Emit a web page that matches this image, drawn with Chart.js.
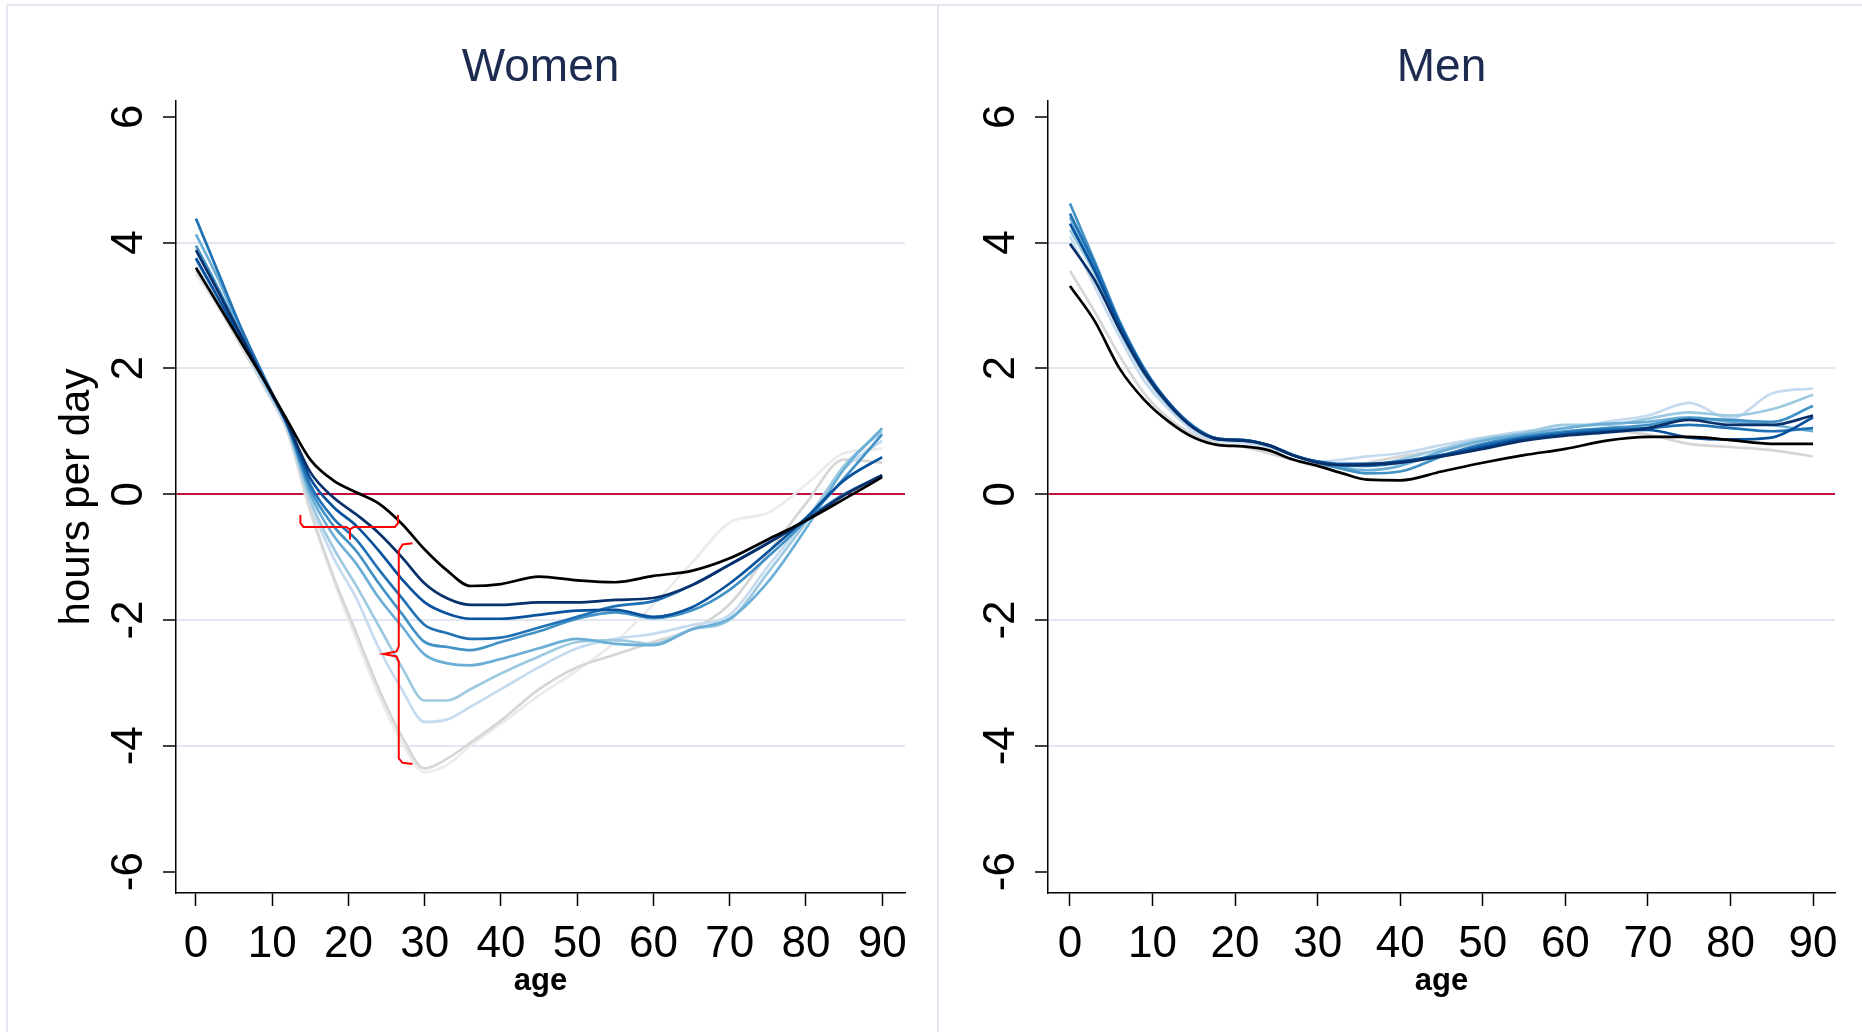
<!DOCTYPE html>
<html><head><meta charset="utf-8">
<script src="https://cdn.jsdelivr.net/npm/chart.js@4.4.1/dist/chart.umd.min.js"></script>
<style>
html,body{margin:0;padding:0;background:#fff;width:1862px;height:1032px;overflow:hidden;}
#frame{position:absolute;left:6px;top:4px;width:1950px;height:1100px;border:2px solid #e3e8f1;box-sizing:border-box;}
#sep{position:absolute;left:937px;top:4px;width:2px;height:1100px;background:#e3e8f1;}
.pane{position:absolute;top:0;height:1032px;}
</style></head><body>
<div id="frame"></div><div id="sep"></div>
<div class="pane" style="left:0;width:938px"><canvas id="cw"></canvas></div>
<div class="pane" style="left:940px;width:922px"><canvas id="cm"></canvas></div>
<script>
// ---- data ----
const ages = [0,3,6,9,12,15,18,21,24,27,30,33,36,40,45,50,55,60,65,70,75,80,85,90];
const xTicks = [0,10,20,30,40,50,60,70,80,90];
const yTicks = [-6,-4,-2,0,2,4,6];
const seriesColors = ['#000000','#08306b','#08519c','#2171b5','#4292c6','#6baed6','#9ecae1','#c6dbef','#d6d6d6','#ebebeb'];

// Women
const wBlack    = [3.60,3.00,2.40,1.80,1.17,0.55,0.22,0.03,-0.15,-0.47,-0.88,-1.22,-1.46,-1.43,-1.31,-1.37,-1.40,-1.30,-1.22,-1.02,-0.72,-0.42,-0.08,0.27];
const wNavy     = [3.88,3.20,2.50,1.80,1.12,0.35,-0.05,-0.32,-0.62,-1.00,-1.42,-1.66,-1.76,-1.76,-1.72,-1.72,-1.68,-1.65,-1.45,-1.12,-0.78,-0.42,-0.02,0.30];
const wDkBlue   = [3.75,3.10,2.45,1.80,1.12,0.25,-0.20,-0.50,-0.90,-1.35,-1.72,-1.90,-1.98,-1.98,-1.92,-1.85,-1.84,-1.95,-1.80,-1.42,-0.92,-0.38,0.22,0.59];
const wBlue1    = [4.38,3.50,2.62,1.85,1.10,0.15,-0.38,-0.72,-1.20,-1.65,-2.08,-2.21,-2.30,-2.28,-2.12,-1.95,-1.78,-1.70,-1.45,-1.12,-0.78,-0.40,0.00,0.30];
const wBlue2    = [3.95,3.25,2.50,1.80,1.10,0.08,-0.50,-0.90,-1.42,-1.90,-2.35,-2.43,-2.48,-2.35,-2.18,-1.98,-1.88,-1.97,-1.85,-1.52,-1.00,-0.42,0.25,0.95];
const wLtBlue   = [4.13,3.40,2.55,1.80,1.08,0.00,-0.65,-1.10,-1.65,-2.10,-2.55,-2.69,-2.72,-2.62,-2.45,-2.30,-2.38,-2.40,-2.15,-1.98,-1.40,-0.55,0.40,1.05];
const wLighter  = [3.75,3.10,2.45,1.75,1.05,-0.10,-0.85,-1.45,-2.10,-2.75,-3.28,-3.28,-3.10,-2.85,-2.58,-2.35,-2.32,-2.38,-2.15,-2.00,-1.25,-0.45,0.45,1.00];
const wLightest = [3.72,3.05,2.40,1.72,1.02,-0.15,-1.00,-1.65,-2.45,-3.10,-3.62,-3.58,-3.38,-3.10,-2.75,-2.45,-2.30,-2.22,-2.08,-1.92,-1.15,-0.40,0.40,0.85];
const wGray     = [3.55,2.98,2.35,1.70,1.00,-0.25,-1.30,-2.20,-3.10,-3.85,-4.36,-4.20,-3.95,-3.60,-3.10,-2.75,-2.55,-2.35,-2.15,-1.75,-0.95,-0.15,0.55,0.50];
const wGray2    = [3.50,2.95,2.32,1.68,0.98,-0.30,-1.35,-2.30,-3.20,-3.95,-4.42,-4.30,-4.00,-3.65,-3.20,-2.80,-2.35,-1.75,-1.10,-0.45,-0.30,0.15,0.65,0.72];

// Men
const mBlack    = [3.31,2.75,2.00,1.50,1.15,0.90,0.78,0.76,0.70,0.55,0.45,0.33,0.23,0.22,0.36,0.50,0.62,0.72,0.85,0.91,0.91,0.86,0.80,0.80];
const mNavy     = [3.98,3.40,2.62,1.93,1.42,1.05,0.87,0.85,0.78,0.62,0.50,0.46,0.47,0.50,0.60,0.72,0.85,0.93,0.98,1.05,1.18,1.10,1.10,1.25];
const mDkBlue   = [4.30,3.55,2.70,1.97,1.44,1.06,0.88,0.86,0.78,0.62,0.52,0.48,0.48,0.52,0.62,0.75,0.88,0.95,1.00,1.02,0.90,0.87,0.90,1.22];
const mBlue1    = [4.46,3.65,2.72,1.98,1.45,1.06,0.88,0.86,0.78,0.62,0.52,0.46,0.45,0.50,0.62,0.78,0.90,0.98,1.03,1.05,1.10,1.05,1.00,1.05];
const mBlue2    = [4.62,3.70,2.75,2.00,1.45,1.08,0.88,0.86,0.78,0.62,0.50,0.40,0.33,0.36,0.60,0.80,0.92,1.00,1.05,1.10,1.20,1.18,1.15,1.40];
const mLtBlue   = [4.40,3.60,2.70,1.95,1.42,1.05,0.87,0.85,0.77,0.62,0.50,0.42,0.38,0.45,0.68,0.85,0.95,1.05,1.12,1.15,1.22,1.15,1.10,1.00];
const mLighter  = [4.20,3.50,2.60,1.90,1.40,1.05,0.88,0.85,0.78,0.63,0.50,0.45,0.45,0.55,0.72,0.88,0.98,1.10,1.10,1.20,1.30,1.25,1.35,1.58];
const mLightest = [4.10,3.30,2.50,1.80,1.35,1.00,0.85,0.82,0.75,0.62,0.52,0.55,0.60,0.65,0.78,0.90,1.00,1.05,1.15,1.25,1.45,1.20,1.60,1.68];
const mGray     = [3.55,2.90,2.20,1.60,1.20,0.95,0.80,0.75,0.65,0.55,0.45,0.45,0.50,0.60,0.70,0.80,0.90,0.95,1.00,0.95,0.80,0.75,0.70,0.60];

// red brace annotations (Women panel), in data units
const braceHx = [13.7,13.7,14.1,19.7,20.2,20.2,20.2,20.7,26.1,26.5,26.5];
const braceHy = [-0.33,-0.46,-0.52,-0.52,-0.56,-0.72,-0.56,-0.52,-0.52,-0.46,-0.33];
const braceVx = [28.4,27.1,26.6,26.6,26.3,24.6,26.3,26.6,26.6,27.1,28.4];
const braceVy = [-0.78,-0.80,-0.90,-2.42,-2.50,-2.54,-2.58,-2.66,-4.20,-4.27,-4.29];

const womenSeries = [wBlack,wNavy,wDkBlue,wBlue1,wBlue2,wLtBlue,wLighter,wLightest,wGray,wGray2];
const menSeries   = [mBlack,mNavy,mDkBlue,mBlue1,mBlue2,mLtBlue,mLighter,mLightest,mGray];

const FONT = "'Liberation Sans', Arial, sans-serif";

function pts(xs, ys){ return xs.map((x,i)=>({x:x, y:ys[i]})); }

function makeChart(id, title, series, xMin, xMax, yWidth, rightPad, yTitle, braces){
  const datasets = series.map((s,i)=>({
    data: pts(ages, s), borderColor: seriesColors[i], borderWidth: 2.7,
    pointRadius: 0, cubicInterpolationMode: 'monotone', fill: false
  }));
  if (braces) {
    braces.forEach(b=>datasets.unshift({data: pts(b[0], b[1]), borderColor:'#ff0000', borderWidth:2, pointRadius:0, tension:0, fill:false}));
  }
  return new Chart(document.getElementById(id), {
    type: 'line',
    data: { datasets },
    options: {
      responsive: true, maintainAspectRatio: false, animation: false, devicePixelRatio: 1,
      layout: { padding: { left: 0, right: rightPad, top: 0, bottom: 0 } },
      plugins: {
        legend: { display: false }, tooltip: { enabled: false },
        title: { display: true, text: title, color: '#1c2b4f', fullSize: false,
          font: { family: FONT, size: 46, weight: 'normal', lineHeight: 1.2 },
          padding: { top: 41, bottom: 4.8 } }
      },
      scales: {
        x: {
          type: 'linear', min: xMin, max: xMax,
          afterBuildTicks: s => { s.ticks = xTicks.map(v=>({value:v})); },
          afterFit: s => { s.height = 139; },
          ticks: { color:'#000', font:{family:FONT,size:44}, padding: 12, maxRotation:0, autoSkip:false },
          grid: { drawOnChartArea:false, drawTicks:true, tickLength:13, tickColor:'#000', tickWidth:1.5 },
          border: { display:true, color:'#000', width:1.5 },
          title: { display:true, text:'age', color:'#000', font:{family:FONT,size:31,weight:'bold'}, padding:{top:0,bottom:32} }
        },
        y: {
          type: 'linear', min: -6.34, max: 6.25,
          afterBuildTicks: s => { s.ticks = yTicks.map(v=>({value:v})); },
          afterFit: s => { s.width = yWidth; },
          ticks: { color:'#000', font:{family:FONT,size:44}, minRotation:90, maxRotation:90, crossAlign:'center', padding: 14, autoSkip:false },
          grid: {
            drawTicks:true, tickLength:13, tickColor:'#000', tickWidth:1.5,
            color: c => (c.tick && c.tick.value === 0) ? '#c0123f' : ((c.tick && Math.abs(c.tick.value) === 6) ? 'rgba(0,0,0,0)' : '#e1e7f0'),
            lineWidth: 2
          },
          border: { display:true, color:'#000', width:1.5 },
          title: { display: !!yTitle, text: yTitle || '', color:'#000', font:{family:FONT,size:42}, padding:{top:52,bottom:0} }
        }
      }
    }
  });
}

makeChart('cw', 'Women', womenSeries, -2.62, 93.0, 176, 33, 'hours per day', [[braceHx,braceHy],[braceVx,braceVy]]);
makeChart('cm', 'Men', menSeries, -2.66, 92.66, 108, 27, null, null);
</script>
</body></html>
